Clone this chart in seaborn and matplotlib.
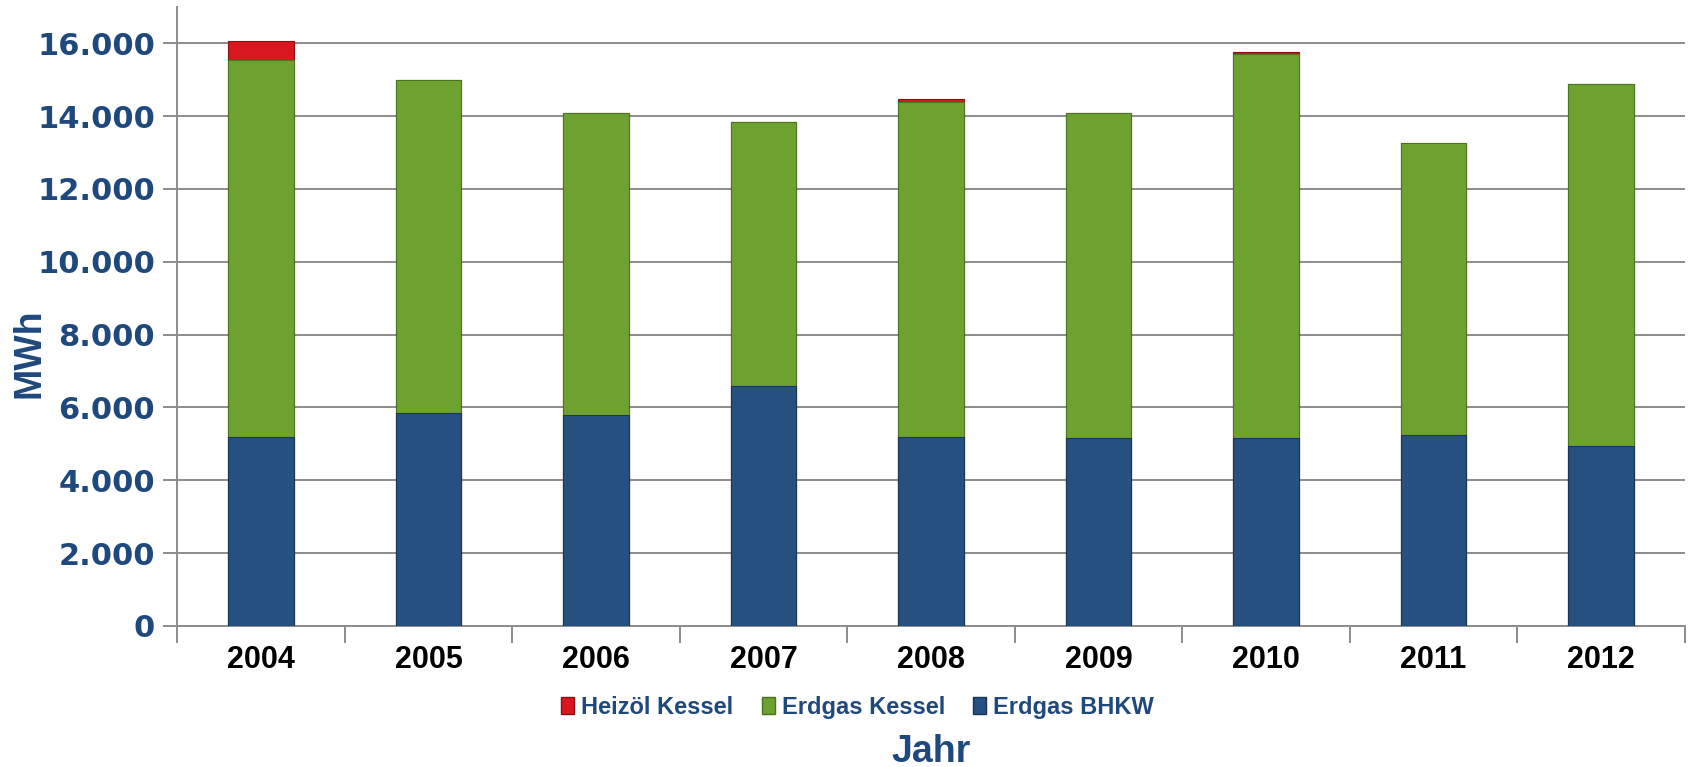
#Importing necessary libraries:
import numpy as np
import pandas as pd
import seaborn as sns
import matplotlib.pyplot as plt
from matplotlib.ticker import FuncFormatter, FixedLocator
from matplotlib.patches import Patch

#Values (MWh):
jahre = ['2004', '2005', '2006', '2007', '2008', '2009', '2010', '2011', '2012']
erdgas_bhkw = [5200, 5850, 5800, 6600, 5200, 5150, 5150, 5250, 4950]
erdgas_kessel = [10350, 9150, 8280, 7250, 9200, 8930, 10550, 8000, 9930]
heizoel_kessel = [500, 0, 0, 0, 80, 0, 60, 0, 0]

#Colours and text colour
c_bhkw = '#25507F'
c_erdgas = '#6EA230'
c_heizoel = '#D8181E'
c_text = '#1F497D'

df = pd.DataFrame({'Jahr': jahre,
                   'BHKW': erdgas_bhkw,
                   'Kessel': erdgas_kessel,
                   'Heizoel': heizoel_kessel})
df['bis_kessel'] = df['BHKW'] + df['Kessel']
df['gesamt'] = df['bis_kessel'] + df['Heizoel']

sns.set_style('white')
plt.rcParams['font.family'] = ['Liberation Sans', 'DejaVu Sans']

fig = plt.figure(figsize=(16.88, 7.67), dpi=100)
ax = fig.add_axes([0.105, 0.184, 0.893, 0.807])

#Stacked bars: draw totals first, then overlay the lower parts
sns.barplot(data=df, x='Jahr', y='gesamt', color=c_heizoel, width=0.39,
            edgecolor='#8E0E10', linewidth=0.8, saturation=1, ax=ax, zorder=3)
sns.barplot(data=df, x='Jahr', y='bis_kessel', color=c_erdgas, width=0.39,
            edgecolor='#4A7420', linewidth=0.8, saturation=1, ax=ax, zorder=3)
sns.barplot(data=df, x='Jahr', y='BHKW', color=c_bhkw, width=0.39,
            edgecolor='#17365A', linewidth=0.8, saturation=1, ax=ax, zorder=3)

#Axis setup
ax.set_ylim(0, 17000)
ax.set_xlim(-0.5, len(jahre) - 0.5)
ax.set_yticks(np.arange(0, 16001, 2000))
ax.yaxis.set_major_formatter(FuncFormatter(lambda v, p: f'{int(v):,}'.replace(',', '.')))
ax.grid(axis='y', color='#8C8C8C', linewidth=1.4, zorder=0)
ax.grid(axis='x', visible=False)
for s in ['top', 'right']:
    ax.spines[s].set_visible(False)
for s in ['left', 'bottom']:
    ax.spines[s].set_color('#8C8C8C')
    ax.spines[s].set_linewidth(1.4)

ax.tick_params(axis='y', left=True, length=10, width=1.4, color='#8C8C8C', pad=6)
ax.tick_params(axis='x', which='major', bottom=False, length=0, pad=14)
ax.xaxis.set_minor_locator(FixedLocator(np.arange(-0.5, len(jahre), 1.0)))
ax.tick_params(axis='x', which='minor', bottom=True, length=12, width=1.4, color='#8C8C8C')

for lbl in ax.get_yticklabels():
    lbl.set_fontfamily('DejaVu Sans')
    lbl.set_fontweight('bold')
    lbl.set_fontsize(22)
    lbl.set_color(c_text)
for lbl in ax.get_xticklabels():
    lbl.set_fontweight('bold')
    lbl.set_fontsize(22)
    lbl.set_color('black')

ax.set_xlabel('Jahr', fontsize=27, fontweight='bold', color=c_text, labelpad=42)
ax.set_ylabel('MWh', fontsize=27, fontweight='bold', color=c_text)
ax.yaxis.set_label_coords(-0.086, 0.44)

#Legend
handles = [Patch(facecolor=c_heizoel, edgecolor='#8E0E10'),
           Patch(facecolor=c_erdgas, edgecolor='#4A7420'),
           Patch(facecolor=c_bhkw, edgecolor='#17365A')]
leg = fig.legend(handles, ['Heizöl Kessel', 'Erdgas Kessel', 'Erdgas BHKW'],
                 loc='center', bbox_to_anchor=(0.508, 0.078), ncol=3, frameon=False,
                 handlelength=0.55, handleheight=0.7, handletextpad=0.3, columnspacing=1.2,
                 prop={'weight': 'bold', 'size': 17})
for t in leg.get_texts():
    t.set_color(c_text)

fig.savefig('out.png', dpi=100)
